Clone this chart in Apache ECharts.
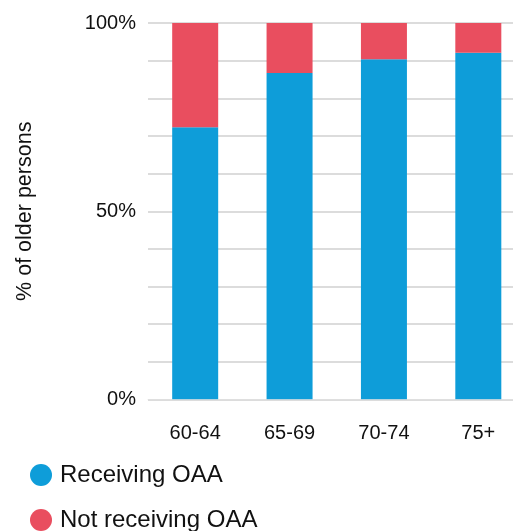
<!DOCTYPE html>
<html>
<head>
<meta charset="utf-8">
<script src="https://cdn.jsdelivr.net/npm/echarts@6/dist/echarts.min.js"></script>
<style>
  html, body { margin: 0; padding: 0; background: #ffffff; }
  #chart { width: 513px; height: 531px; }
</style>
</head>
<body>
<div id="chart"></div>
<script>
// Share of older persons receiving Old Age Allowance, by age group
const ageGroups = ['60-64', '65-69', '70-74', '75+'];
const receiving = [72.3, 86.7, 90.4, 92.1];
const notReceiving = [27.7, 13.3, 9.6, 7.9];
const yTickLabels = { 0: '0%', 50: '50%', 100: '100%' };
const seriesNames = ['Receiving OAA', 'Not receiving OAA'];

const BLUE = '#0e9dd9';
const RED = '#e94e5f';
const FONT = '"Liberation Sans", Arial, Helvetica, sans-serif';

const chart = echarts.init(document.getElementById('chart'), null, { renderer: 'canvas' });

// one single-item legend per row so the two entries stack vertically
const legendRow = (name, top) => ({
  orient: 'vertical',
  left: 25,
  top: top,
  icon: 'circle',
  itemWidth: 28,
  itemHeight: 22,
  textStyle: { fontFamily: FONT, fontSize: 24, color: '#111111' },
  data: [name]
});

chart.setOption({
  animation: false,
  textStyle: { fontFamily: FONT },
  grid: {
    left: 148, top: 23, width: 377.5, bottom: 131.5,
    containLabel: false,
    outerBoundsMode: 'none'
  },
  legend: [legendRow(seriesNames[0], 458), legendRow(seriesNames[1], 503)],
  xAxis: {
    type: 'category',
    data: ageGroups,
    z: 5,
    axisLine: { show: true, lineStyle: { color: 'rgba(225,225,225,0.6)', width: 1 } },
    axisTick: { show: false },
    axisLabel: { fontFamily: FONT, fontSize: 20, color: '#111111', margin: 24 }
  },
  yAxis: {
    type: 'value',
    min: 0,
    max: 100,
    interval: 10,
    name: '% of older persons',
    nameLocation: 'middle',
    nameRotate: 90,
    nameGap: 112,
    nameTextStyle: { fontFamily: FONT, fontSize: 21.5, color: '#111111' },
    axisLine: { show: false },
    axisTick: { show: false },
    axisLabel: {
      fontFamily: FONT,
      fontSize: 20,
      color: '#111111',
      margin: 12,
      formatter: v => (yTickLabels[v] !== undefined ? yTickLabels[v] : '')
    },
    splitLine: { show: true, lineStyle: { color: '#dcdcdc', width: 2 } }
  },
  series: [
    {
      name: seriesNames[0],
      type: 'bar',
      stack: 'total',
      barWidth: 46,
      itemStyle: { color: BLUE },
      data: receiving
    },
    {
      name: seriesNames[1],
      type: 'bar',
      stack: 'total',
      barWidth: 46,
      itemStyle: { color: RED },
      data: notReceiving
    }
  ]
});
</script>
</body>
</html>
